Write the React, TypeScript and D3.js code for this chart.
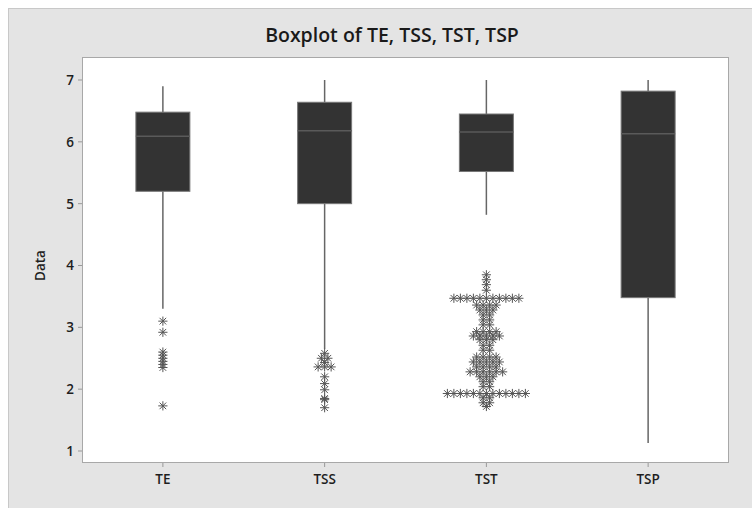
import React from "react";
import * as d3 from "d3";

// Category names along the x axis
const categories = ["TE", "TSS", "TST", "TSP"];

// Five-number summaries: lower whisker, Q1, median, Q3, upper whisker
const whiskerLow = [3.3, 2.65, 4.82, 1.13];
const q1 = [5.2, 5.0, 5.52, 3.48];
const medians = [6.09, 6.18, 6.16, 6.13];
const q3 = [6.48, 6.64, 6.45, 6.82];
const whiskerHigh = [6.9, 7.0, 7.0, 7.0];

// Outliers per series: distinct values and how many observations share each value
const teOutlierValues = [3.1, 2.92, 2.6, 2.55, 2.5, 2.45, 2.4, 2.35, 1.73];
const teOutlierCounts = [1, 1, 1, 1, 1, 1, 1, 1, 1];

const tssOutlierValues = [2.58, 2.5, 2.43, 2.36, 2.2, 2.09, 1.99, 1.85, 1.83, 1.7];
const tssOutlierCounts = [1, 2, 1, 3, 1, 1, 1, 1, 1, 1];

const tstOutlierValues = [
  3.85, 3.77, 3.69, 3.6, 3.47, 3.36, 3.28, 3.2, 3.12, 3.04, 2.93, 2.86, 2.8,
  2.71, 2.63, 2.52, 2.44, 2.36, 2.28, 2.2, 2.12, 2.04, 1.93, 1.86, 1.78, 1.72,
];
const tstOutlierCounts = [
  1, 1, 1, 1, 11, 4, 3, 2, 2, 2, 4, 5, 3, 2, 2, 4, 5, 4, 6, 3, 2, 2, 13, 2, 2, 1,
];

const tspOutlierValues: number[] = [];
const tspOutlierCounts: number[] = [];

const outlierValues = [teOutlierValues, tssOutlierValues, tstOutlierValues, tspOutlierValues];
const outlierCounts = [teOutlierCounts, tssOutlierCounts, tstOutlierCounts, tspOutlierCounts];

const yTicks = [1, 2, 3, 4, 5, 6, 7];

const FONT = "'Open Sans', 'Noto Sans', sans-serif";

// Asterisk marker: vertical, horizontal and two diagonal strokes
function Star({ cx, cy, r }: { cx: number; cy: number; r: number }) {
  const d = r * 0.72;
  return (
    <g stroke="#555" strokeWidth={1} fill="none">
      <line x1={cx} y1={cy - r} x2={cx} y2={cy + r} />
      <line x1={cx - r} y1={cy} x2={cx + r} y2={cy} />
      <line x1={cx - d} y1={cy - d} x2={cx + d} y2={cy + d} />
      <line x1={cx - d} y1={cy + d} x2={cx + d} y2={cy - d} />
    </g>
  );
}

export default function App() {
  const W = 752;
  const H = 508;
  const plot = { left: 82, right: 729, top: 57, bottom: 463 };

  const x = d3
    .scaleBand<string>()
    .domain(categories)
    .range([plot.left, plot.right])
    .padding(0);
  const y = d3.scaleLinear().domain([1, 7]).range([451, 80]);

  const boxW = 54;
  const starR = 4.6;
  const starGap = 6.5;

  return (
    <svg
      width={W}
      height={H}
      style={{ position: "absolute", left: 0, top: 0, display: "block" }}
      fontFamily={FONT}
    >
      {/* outer panel */}
      <rect x={8.5} y={8.5} width={900} height={700} fill="#e4e4e4" stroke="#c8c8c8" />

      {/* title */}
      <text
        x={392}
        y={42}
        textAnchor="middle"
        fontSize={19.5}
        fontWeight={600}
        fill="#1a1a1a"
      >
        Boxplot of TE, TSS, TST, TSP
      </text>

      {/* plotting area */}
      <rect
        x={plot.left + 0.5}
        y={plot.top + 0.5}
        width={plot.right - plot.left - 1}
        height={plot.bottom - plot.top - 1}
        fill="#ffffff"
        stroke="#a8a8a8"
      />

      {/* y axis */}
      {yTicks.map((t) => (
        <g key={t}>
          <line x1={plot.left - 4} x2={plot.left} y1={y(t)} y2={y(t)} stroke="#999" />
          <text
            x={plot.left - 8}
            y={y(t)}
            dy="0.36em"
            textAnchor="end"
            fontSize={13.5}
            fontWeight={600}
            fill="#1e1e1e"
          >
            {t}
          </text>
        </g>
      ))}
      <text
        transform={`translate(45, ${y(4)}) rotate(-90)`}
        textAnchor="middle"
        fontSize={13.5}
        fontWeight={600}
        fill="#1e1e1e"
      >
        Data
      </text>

      {/* x axis */}
      {categories.map((c) => {
        const cx = (x(c) ?? 0) + x.bandwidth() / 2;
        return (
          <g key={c}>
            <line x1={cx} x2={cx} y1={plot.bottom} y2={plot.bottom + 4} stroke="#999" />
            <text
              x={cx}
              y={484}
              textAnchor="middle"
              fontSize={13.5}
              fontWeight={600}
              fill="#1e1e1e"
            >
              {c}
            </text>
          </g>
        );
      })}

      {/* boxes */}
      {categories.map((c, i) => {
        const cx = (x(c) ?? 0) + x.bandwidth() / 2;
        return (
          <g key={c}>
            <line
              x1={cx}
              x2={cx}
              y1={y(whiskerHigh[i])}
              y2={y(q3[i])}
              stroke="#666"
              strokeWidth={1.5}
            />
            <line
              x1={cx}
              x2={cx}
              y1={y(q1[i])}
              y2={y(whiskerLow[i])}
              stroke="#666"
              strokeWidth={1.5}
            />
            <rect
              x={cx - boxW / 2}
              y={y(q3[i])}
              width={boxW}
              height={y(q1[i]) - y(q3[i])}
              fill="#333333"
              stroke="#777"
              strokeWidth={1}
            />
            <line
              x1={cx - boxW / 2}
              x2={cx + boxW / 2}
              y1={y(medians[i])}
              y2={y(medians[i])}
              stroke="#5a5a5a"
              strokeWidth={1.5}
            />
            {outlierValues[i].map((v, j) => {
              const n = outlierCounts[i][j];
              return d3.range(n).map((k) => (
                <Star
                  key={`${j}-${k}`}
                  cx={cx + (k - (n - 1) / 2) * starGap}
                  cy={y(v)}
                  r={starR}
                />
              ));
            })}
          </g>
        );
      })}
    </svg>
  );
}
